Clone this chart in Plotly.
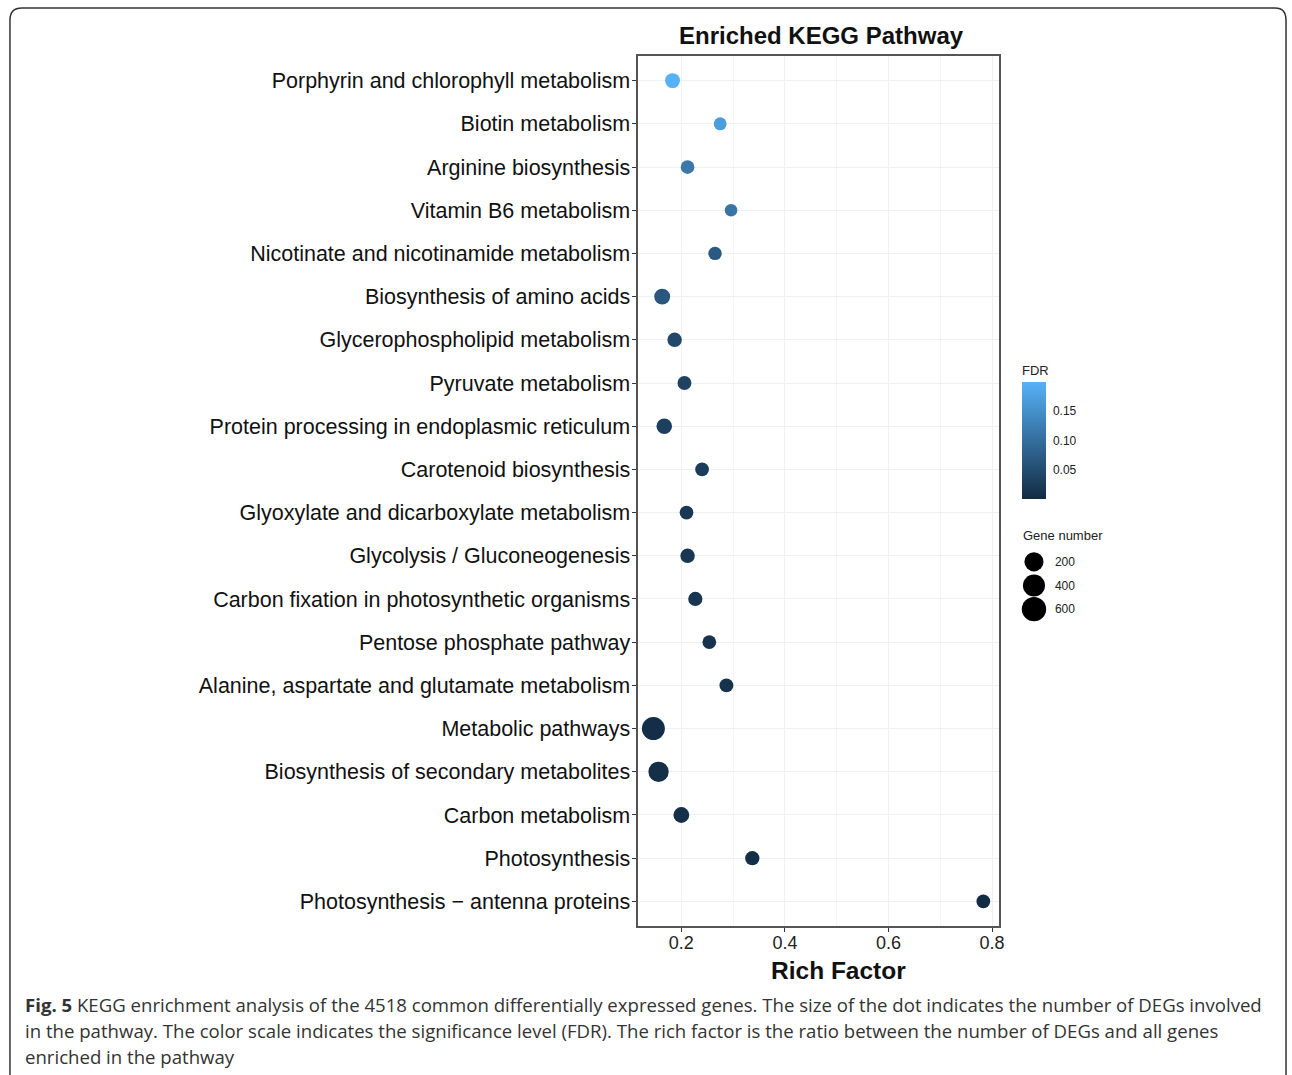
import numpy as np
import plotly.graph_objects as go

W, H = 1292, 1075

pathways = [
    "Porphyrin and chlorophyll metabolism",
    "Biotin metabolism",
    "Arginine biosynthesis",
    "Vitamin B6 metabolism",
    "Nicotinate and nicotinamide metabolism",
    "Biosynthesis of amino acids",
    "Glycerophospholipid metabolism",
    "Pyruvate metabolism",
    "Protein processing in endoplasmic reticulum",
    "Carotenoid biosynthesis",
    "Glyoxylate and dicarboxylate metabolism",
    "Glycolysis / Gluconeogenesis",
    "Carbon fixation in photosynthetic organisms",
    "Pentose phosphate pathway",
    "Alanine, aspartate and glutamate metabolism",
    "Metabolic pathways",
    "Biosynthesis of secondary metabolites",
    "Carbon metabolism",
    "Photosynthesis",
    "Photosynthesis \u2212 antenna proteins",
]
rich_factor = [0.183, 0.275, 0.212, 0.296, 0.265, 0.163, 0.187, 0.206, 0.167, 0.240,
               0.210, 0.212, 0.227, 0.254, 0.287, 0.146, 0.156, 0.200, 0.337, 0.783]
fdr = [0.200, 0.170, 0.115, 0.110, 0.070, 0.065, 0.042, 0.035, 0.030, 0.025,
       0.020, 0.018, 0.015, 0.012, 0.010, 0.004, 0.006, 0.008, 0.005, 0.001]
gene_number = [75, 22, 40, 15, 32, 115, 60, 45, 100, 40,
               40, 60, 55, 40, 45, 620, 380, 110, 55, 40]
legend_sizes = [200, 400, 600]
x_ticks = [0.2, 0.4, 0.6, 0.8]

# size scale (area-proportional, like ggplot scale_size)
n_min, n_max = 15, 620
d_min, d_max = 12.5, 23.0
def size_of(n):
    return d_min + (d_max - d_min) * (np.sqrt(n) - np.sqrt(n_min)) / (np.sqrt(n_max) - np.sqrt(n_min))

def px(x):
    return x / W
def py(y):
    return 1 - y / H

colorscale = [[0, "#132B43"], [1, "#56B1F7"]]

order = list(reversed(pathways))

fig = go.Figure()
fig.add_trace(go.Scatter(
    x=rich_factor, y=pathways, mode="markers",
    marker=dict(size=[size_of(n) for n in gene_number], color=fdr,
                colorscale=colorscale, cmin=0, cmax=max(fdr), opacity=1,
                line=dict(width=0),
                colorbar=dict(
                    title=dict(text="FDR", side="top", font=dict(size=13, family="Liberation Sans", color="#222")),
                    x=px(1026), xanchor="left", y=py(362), yanchor="top", xpad=0,
                    len=137, lenmode="pixels", thickness=24, thicknessmode="pixels",
                    outlinewidth=0, tickvals=[0.05, 0.10, 0.15], ticktext=["0.05", "0.10", "0.15"],
                    ticks="outside", ticklen=5, tickcolor="rgba(0,0,0,0)",
                    ypad=0,
                    tickfont=dict(size=12, family="Liberation Sans", color="#222"),
                )),
    showlegend=False, hoverinfo="x+y",
))

# size legend
fig.add_trace(go.Scatter(
    x=[0, 0, 0], y=[str(s) for s in legend_sizes], mode="markers",
    marker=dict(size=[size_of(s) + 1.5 for s in legend_sizes], color="#000000", opacity=1,
                line=dict(width=0)),
    cliponaxis=False,
    xaxis="x2", yaxis="y2", showlegend=False, hoverinfo="skip",
))

fig.update_layout(
    width=W, height=H, margin=dict(l=0, r=0, t=0, b=0),
    paper_bgcolor="white", plot_bgcolor="white",
    font=dict(family="Liberation Sans", color="#111"),
    xaxis=dict(domain=[px(640), px(1003)], range=[0.1154, 0.8135],
               tickvals=x_ticks, ticktext=[f"{v:.1f}" for v in x_ticks],
               tickfont=dict(size=18, color="#222"), ticklabelstandoff=-5,
               showgrid=True, gridcolor="#F0F0F0", gridwidth=1,
               minor=dict(dtick=0.1, tick0=0.1, showgrid=True, gridcolor="#F5F5F5", gridwidth=1),
               zeroline=False, showline=True, linecolor="#555", linewidth=2, mirror=True,
               ticks="outside", ticklen=4, tickcolor="#333", anchor="y"),
    yaxis=dict(domain=[py(926), py(56)], type="category", categoryorder="array",
               categoryarray=order, range=[-0.57, 19.57],
               tickfont=dict(size=21.5, color="#111"), ticklabelstandoff=-3,
               showgrid=True, gridcolor="#F0F0F0", gridwidth=1,
               zeroline=False, showline=True, linecolor="#555", linewidth=2, mirror=True,
               ticks="outside", ticklen=4, tickcolor="#333", anchor="x"),
    xaxis2=dict(domain=[px(1028), px(1048)], range=[-1, 1], visible=False, anchor="y2", fixedrange=True),
    yaxis2=dict(domain=[py(621), py(550)], type="category", categoryorder="array",
                categoryarray=[str(s) for s in reversed(legend_sizes)], range=[-0.5, 2.5],
                side="right", anchor="x2", showgrid=False, zeroline=False, showline=False,
                ticks="", ticklabelstandoff=10,
                tickfont=dict(size=12, family="Liberation Sans", color="#222")),
)

ann = [
    dict(text="<b>Enriched KEGG Pathway</b>", x=px(825), y=py(35), font=dict(size=24, color="#111")),
    dict(text="<b>Rich Factor</b>", x=px(842), y=py(970), font=dict(size=24.5, color="#111")),
]
for a in ann:
    fig.add_annotation(xref="paper", yref="paper", showarrow=False, xanchor="center", yanchor="middle", **a)

fig.add_annotation(text="Gene number", xref="paper", yref="paper", x=px(1025), y=py(536),
                   xanchor="left", yanchor="middle", showarrow=False,
                   font=dict(size=13, family="Liberation Sans", color="#222"))

captions = [
    "<b>Fig. 5</b> KEGG enrichment analysis of the 4518 common differentially expressed genes. The size of the dot indicates the number of DEGs involved",
    "in the pathway. The color scale indicates the significance level (FDR). The rich factor is the ratio between the number of DEGs and all genes",
    "enriched in the pathway",
]
for i, c in enumerate(captions):
    fig.add_annotation(text=c, xref="paper", yref="paper", x=px(23), y=py(1004 + 26 * i),
                       xanchor="left", yanchor="middle", showarrow=False,
                       font=dict(size=18.6, family="Open Sans", color="#333"))

# outer rounded border
def P(x, y):
    return f"{px(x):.5f},{py(y):.5f}"
path = (f"M {P(10, 1085)} L {P(10, 20)} Q {P(10, 8)} {P(22, 8)} "
        f"L {P(1280, 8)} Q {P(1291, 8)} {P(1291, 20)} L {P(1291, 1085)}")
fig.add_shape(type="path", path=path, xref="paper", yref="paper",
              line=dict(color="#333", width=1.5))

fig.write_html("out.html")
